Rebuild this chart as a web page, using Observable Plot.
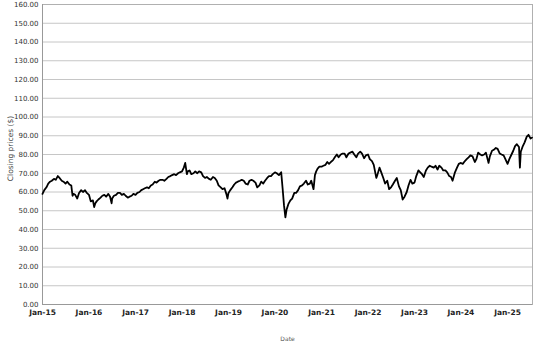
<!DOCTYPE html>
<html>
<head>
<meta charset="utf-8">
<script src="https://cdn.jsdelivr.net/npm/d3@7"></script>
<script src="https://cdn.jsdelivr.net/npm/@observablehq/plot@0.6"></script>
<style>
  html, body { margin: 0; padding: 0; background: #fff; }
  #chart { width: 545px; height: 346px; }
</style>
</head>
<body>
<div id="chart"></div>
<script>
const dates = [
  "2015-01-01","2015-01-15","2015-02-01","2015-02-15","2015-03-01","2015-03-15","2015-04-01","2015-04-15","2015-05-01","2015-05-15","2015-06-01","2015-06-15","2015-07-01","2015-07-15","2015-08-01","2015-08-15","2015-08-25","2015-09-01","2015-09-15","2015-10-01","2015-10-15","2015-11-01","2015-11-15","2015-12-01","2015-12-15",
  "2016-01-01","2016-01-15","2016-02-01","2016-02-11","2016-02-20","2016-03-01","2016-03-15","2016-04-01","2016-04-15","2016-05-01","2016-05-15","2016-06-01","2016-06-15","2016-06-27","2016-07-01","2016-07-15","2016-08-01","2016-08-15","2016-09-01","2016-09-15","2016-10-01","2016-10-15","2016-11-01","2016-11-15","2016-12-01","2016-12-15",
  "2017-01-01","2017-01-15","2017-02-01","2017-02-15","2017-03-01","2017-03-15","2017-04-01","2017-04-15","2017-05-01","2017-05-15","2017-06-01","2017-06-15","2017-07-01","2017-07-15","2017-08-01","2017-08-15","2017-09-01","2017-09-15","2017-10-01","2017-10-15","2017-11-01","2017-11-15","2017-12-01","2017-12-15",
  "2018-01-01","2018-01-15","2018-01-26","2018-02-08","2018-02-15","2018-03-01","2018-03-15","2018-04-01","2018-04-15","2018-05-01","2018-05-15","2018-06-01","2018-06-15","2018-07-01","2018-07-15","2018-08-01","2018-08-15","2018-09-01","2018-09-15","2018-10-01","2018-10-15","2018-11-01","2018-11-15","2018-12-01","2018-12-15","2018-12-24",
  "2019-01-01","2019-01-15","2019-02-01","2019-02-15","2019-03-01","2019-03-15","2019-04-01","2019-04-15","2019-05-01","2019-05-15","2019-06-01","2019-06-15","2019-07-01","2019-07-15","2019-08-01","2019-08-15","2019-09-01","2019-09-15","2019-10-01","2019-10-15","2019-11-01","2019-11-15","2019-12-01","2019-12-15",
  "2020-01-01","2020-01-15","2020-02-01","2020-02-19","2020-03-01","2020-03-12","2020-03-23","2020-04-01","2020-04-15","2020-05-01","2020-05-15","2020-06-01","2020-06-15","2020-07-01","2020-07-15","2020-08-01","2020-08-15","2020-09-01","2020-09-15","2020-10-01","2020-10-12","2020-10-30","2020-11-10","2020-11-20","2020-12-01","2020-12-15",
  "2021-01-01","2021-01-15","2021-02-01","2021-02-15","2021-03-01","2021-03-15","2021-04-01","2021-04-15","2021-05-01","2021-05-15","2021-06-01","2021-06-15","2021-07-01","2021-07-15","2021-08-01","2021-08-15","2021-09-01","2021-09-15","2021-10-01","2021-10-15","2021-11-01","2021-11-15","2021-12-01","2021-12-15",
  "2022-01-01","2022-01-15","2022-02-01","2022-02-15","2022-03-07","2022-03-15","2022-04-01","2022-04-15","2022-05-01","2022-05-15","2022-06-01","2022-06-16","2022-07-01","2022-07-15","2022-08-01","2022-08-15","2022-09-01","2022-09-15","2022-09-30","2022-10-15","2022-11-01","2022-11-15","2022-12-01","2022-12-15",
  "2023-01-01","2023-01-15","2023-02-01","2023-02-15","2023-03-01","2023-03-15","2023-04-01","2023-04-15","2023-05-01","2023-05-15","2023-06-01","2023-06-15","2023-07-01","2023-07-15","2023-08-01","2023-08-15","2023-09-01","2023-09-15","2023-10-01","2023-10-15","2023-10-27","2023-11-15","2023-12-01","2023-12-15",
  "2024-01-01","2024-01-15","2024-02-01","2024-02-15","2024-03-01","2024-03-15","2024-04-01","2024-04-19","2024-05-01","2024-05-15","2024-06-01","2024-06-15","2024-07-01","2024-07-15","2024-08-05","2024-08-15","2024-09-01","2024-09-15","2024-10-01","2024-10-15","2024-11-01","2024-11-15","2024-12-01","2024-12-15",
  "2025-01-01","2025-01-15","2025-02-01","2025-02-15","2025-03-01","2025-03-15","2025-04-01","2025-04-08","2025-04-15","2025-05-01","2025-05-15","2025-06-01","2025-06-15","2025-07-01","2025-07-12"
];
const closes = [
  59,61,62.5,64.5,65.5,66,67,66.5,68.5,67.5,66,65.5,64.5,65.5,64,63.5,58,59,58.5,56.5,59.5,61,60,61,59.5,
  58.5,55,55.5,52,54,55,56,57,58,58.5,57.5,59,57.5,54,56.5,58,58.5,59.5,59.5,58.5,59,58,57,57.5,58,59,
  58.5,59.5,60,61,61.5,62,62.5,62,63.5,64,65.5,65,66,66.5,66.5,66,67,68,68.5,69,69.5,69,70,70.5,
  71,73,75.5,69.5,71,71.5,69.5,70,71,70,71,70.5,68.5,67.5,68,67,66.5,68,67.5,66,63.5,62.5,61.5,62,59,56.5,
  59.5,61,62.5,64,65,65.5,66,66.5,66,64.5,64,66,66.5,66,65,62.5,63.5,65.5,64.5,66,67.5,68.5,68.5,69.5,
  70.5,70,69,70.5,62,53,46.5,50.5,53.5,55.5,56.5,59.5,59.5,61,63,63.5,64.5,66,64,64.5,66,61.5,69,71,72.5,73.5,
  73.5,74,74.5,76,75,76,77,78.5,80,78.5,80,80.5,80.5,78.5,80.5,81,81.5,80,78.5,80.5,81.5,80.5,78,79.5,
  80,77.5,76.5,74.5,67.5,69,73,70.5,67.5,64.5,66,61.5,62.5,64,66,67.5,63,61,56,57.5,60,63.5,66.5,64.5,
  65,68.5,71.5,70.5,69.5,68,71.5,73,74,73.5,73,74,72,74,73,71.5,71.5,70.5,68.5,68,66,70.5,73,75,
  75.5,75,76.5,77.5,78.5,79.5,79,76,77.5,81,80,79.5,80,81,75.5,79,82,82.5,83.5,83,80.5,80,79.5,77.5,
  75,77.5,80,82,84.5,85.5,84,73,81.5,84.5,86.5,89.5,90.5,88.5,89
];
const yTicks = [0,10,20,30,40,50,60,70,80,90,100,110,120,130,140,150,160];
const xTickDates = ["2015-01-01","2016-01-01","2017-01-01","2018-01-01","2019-01-01","2020-01-01","2021-01-01","2022-01-01","2023-01-01","2024-01-01","2025-01-01"];
const xDomain = ["2015-01-01","2025-07-16"];
const xTitle = "Date";
const yTitle = "Closing prices ($)";

const data = dates.map((d, i) => ({date: new Date(d), close: closes[i]}));
const xTicks = xTickDates.map(d => new Date(d));

const chart = Plot.plot({
  width: 545,
  height: 346,
  marginLeft: 42,
  marginRight: 13,
  marginTop: 4,
  marginBottom: 42,
  style: {fontFamily: "DejaVu Sans, Verdana, sans-serif", fontSize: "7px", background: "#fff", color: "#333"},
  x: {type: "utc", domain: xDomain.map(d => new Date(d)), label: null},
  y: {domain: [0, 160], label: null},
  marks: [
    Plot.gridY(yTicks, {stroke: "#c6c6c6", strokeOpacity: 1, strokeWidth: 1}),
    Plot.frame({stroke: "#b0b0b0"}),
    Plot.ruleX([xTicks[0]], {stroke: "#999"}),
    Plot.ruleY([0], {stroke: "#999"}),
    Plot.axisY(yTicks, {tickSize: 0, tickPadding: 4, tickFormat: d => d.toFixed(2), fontSize: 7, fill: "#333", label: null}),
    Plot.axisX(xTicks, {tickSize: 0, tickPadding: 5.5, tickFormat: d3.utcFormat("%b-%y"), fontSize: 7.5, fontWeight: "bold", fill: "#222", label: null}),
    Plot.lineY(data, {x: "date", y: "close", stroke: "#000", strokeWidth: 1.8, strokeLinejoin: "round"}),
    Plot.text([xTitle], {text: d => d, frameAnchor: "bottom", dy: 36, fontSize: 6, fill: "#555", textAnchor: "middle"}),
    Plot.text([yTitle], {text: d => d, frameAnchor: "left", dx: -32, dy: -6, rotate: -90, fontSize: 7.5, fill: "#444", textAnchor: "middle"})
  ]
});
document.getElementById("chart").appendChild(chart);
</script>
</body>
</html>
